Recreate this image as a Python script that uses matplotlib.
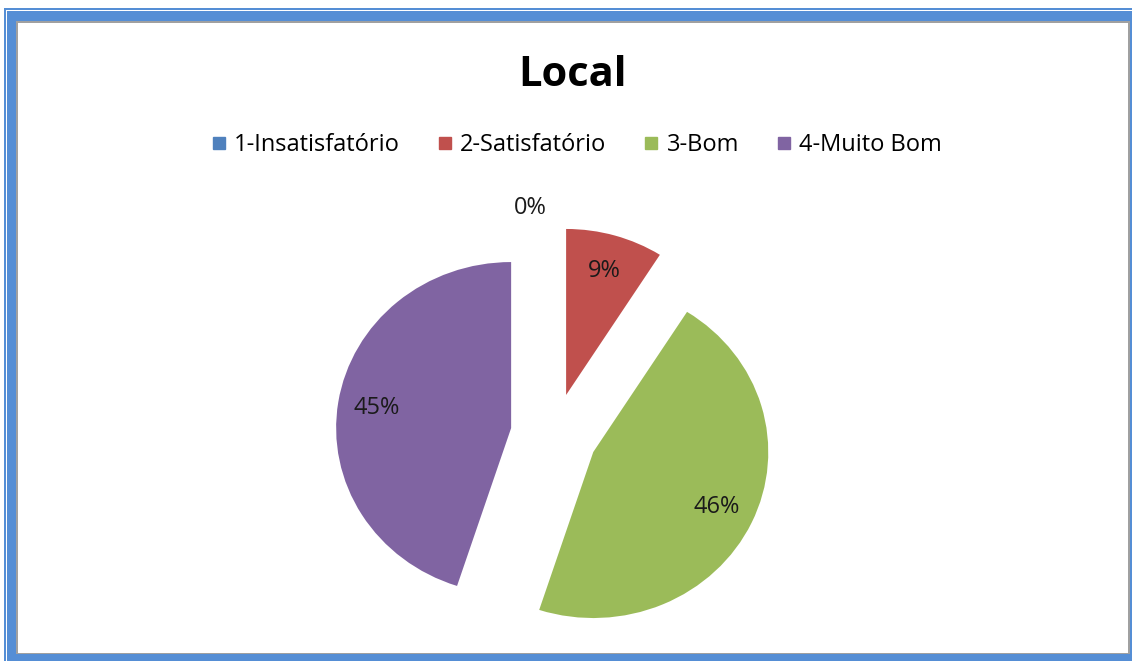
import matplotlib.pyplot as plt
from matplotlib.patches import Rectangle
from matplotlib.lines import Line2D

plt.rcParams['font.family'] = ['Open Sans', 'DejaVu Sans']

categories = ['1-Insatisfatório', '2-Satisfatório', '3-Bom', '4-Muito Bom']
values = [0, 9, 46, 45]
colors = ['#4F81BD', '#C0504D', '#9BBB59', '#8064A2']

W, H = 1132, 661
fig = plt.figure(figsize=(W / 100, H / 100), dpi=100)
fig.patch.set_facecolor('white')

# blue double frame like the spreadsheet chart border
def px_rect(x0, y0, x1, y1, color):
    fig.add_artist(Rectangle((x0 / W, 1 - y1 / H), (x1 - x0) / W, (y1 - y0) / H,
                             transform=fig.transFigure, facecolor=color,
                             edgecolor='none', zorder=-10))

px_rect(4, 8, 1132, 661, '#558ED5')
px_rect(6, 10, 1132, 661, 'white')
px_rect(7, 11, 1132, 661, '#558ED5')
px_rect(16, 21, 1130, 654, '#A0A0A0')
px_rect(18, 23, 1128, 653, 'white')

# pie axes: centre at (554, 434) px, the original is a bit wider than tall
cx, cy, rx, ry = 554, 434.5, 175, 166
L = 1.3
aw, ah = 2 * L * rx, 2 * L * ry
ax = fig.add_axes([(cx - aw / 2) / W, (H - cy - ah / 2) / H, aw / W, ah / H])

wedges, texts, autotexts = ax.pie(values, colors=colors, startangle=90, counterclock=False,
                                  explode=[0.248] * len(values), autopct='%1.0f%%',
                                  pctdistance=0.78, radius=1,
                                  textprops={'fontsize': 17, 'color': '#1a1a1a'})
ax.set_xlim(-L, L)
ax.set_ylim(-L, L)
ax.set_aspect('auto')
ax.axis('off')
for t in autotexts:
    t.set_clip_on(False)
# zero slice label sits above the pie
autotexts[0].set_position((-0.137, 1.364))

fig.text(573 / W, 1 - 75 / H, 'Local', ha='center', va='center',
         fontsize=30, fontweight='bold', color='black')

handles = [Line2D([], [], marker='s', linestyle='none', markersize=9,
                  markerfacecolor=c, markeredgecolor=c) for c in colors]
fig.legend(handles, categories, loc='center', bbox_to_anchor=(577 / W, 1 - 145 / H),
           ncol=4, frameon=False, fontsize=17, handletextpad=0.35,
           columnspacing=1.6, handlelength=0.6)

fig.savefig('out.png', dpi=100)
